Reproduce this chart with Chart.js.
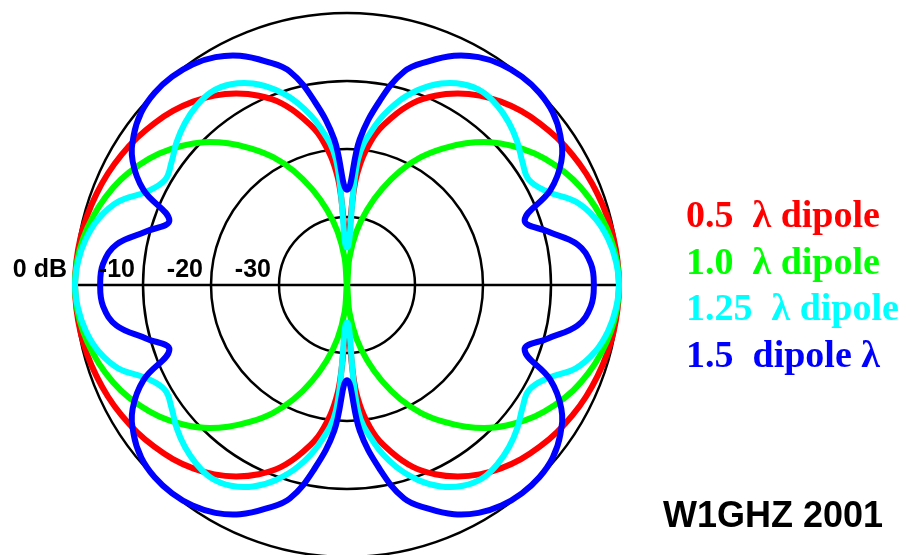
<!DOCTYPE html>
<html>
<head>
<meta charset="utf-8">
<script src="https://cdn.jsdelivr.net/npm/chart.js@4/dist/chart.umd.min.js"></script>
<style>
    html, body { margin: 0; padding: 0; background: #fff; overflow: hidden; }
    canvas { display: block; }
</style>
</head>
<body>
<canvas id="myChart" width="907" height="570"></canvas>
<script>
// angle from the dipole axis (deg), one quadrant, pattern is symmetric
var angulos = [0, 5, 10, 15, 20, 25, 30, 35, 40, 45, 50, 55, 60, 65, 70, 75, 80, 85, 90]

// relative field in dB
var dipolo05  = [-33, -24, -18, -14.5, -11.5, -9.3, -7.5, -6.0, -4.8, -3.8, -3.0, -2.3, -1.7, -1.2, -0.8, -0.45, -0.2, -0.05, 0]
var dipolo10  = [-40, -36, -32, -28.5, -25, -21.5, -18.3, -15.5, -12.8, -10.3, -8.2, -6.3, -4.7, -3.3, -2.2, -1.3, -0.6, -0.15, 0]
var dipolo125 = [-34.5, -21.5, -16.2, -12.4, -9.5, -7.3, -5.9, -5.3, -5.6, -6.3, -7.3, -8.5, -9.1, -7.5, -4.2, -2.2, -1.0, -0.3, 0]
var dipolo15  = [-26, -18.5, -12.6, -7.5, -5.0, -2.8, -1.3, -0.4, 0, 0, -0.5, -1.7, -3.6, -7.0, -12.2, -9.5, -5.6, -4.0, -3.7]

var anillos = [0, -10, -20, -30]
var etiquetasAnillo = ['0 dB', '-10', '-20', '-30']

var leyenda = ['0.5  \u03bb dipole', '1.0  \u03bb dipole', '1.25  \u03bb dipole', '1.5  dipole \u03bb']
var colores = ['rgb(255, 0, 0)', 'rgb(0, 255, 0)', 'rgb(0, 255, 255)', 'rgb(0, 0, 255)']
var credito = 'W1GHZ 2001'

// full turn of labels, clockwise from the top
function getEtiquetas() {
    let etiquetas = []
    for (let k = 0; k < 4; k++) {
        angulos.slice(0, angulos.length - 1).forEach(a => {
            etiquetas.push(k * 90 + a)
        })
    }
    return etiquetas
}

// unfold one quadrant to the whole circle
function vueltaCompleta(cuadrante) {
    let valores = []
    getEtiquetas().forEach(a => {
        let t = a > 180 ? 360 - a : a
        if (t > 90) t = 180 - t
        valores.push(cuadrante[angulos.indexOf(t)])
    })
    return valores
}

const textos = {
    id: 'textos',
    afterDraw(chart) {
        const ctx = chart.ctx
        const r = chart.scales.r
        ctx.save()
        ctx.fillStyle = '#000'
        ctx.textBaseline = 'alphabetic'
        ctx.textAlign = 'right'
        ctx.font = 'bold 25px "Liberation Sans", Arial, sans-serif'
        anillos.forEach((v, i) => {
            const d = r.getDistanceFromCenterForValue(v)
            ctx.fillText(etiquetasAnillo[i], r.xCenter - d - 8, r.yCenter - 8)
        })

        ctx.textAlign = 'left'
        ctx.font = 'bold 38px "Liberation Serif", "Times New Roman", serif'
        leyenda.forEach((t, i) => {
            ctx.fillStyle = colores[i]
            ctx.fillText(t, 686, 227 + i * 46.5)
        })

        ctx.fillStyle = '#000'
        ctx.font = 'bold 36px "Liberation Sans", Arial, sans-serif'
        ctx.fillText(credito, 663, 527)
        ctx.restore()
    }
}

var ctx = document.getElementById('myChart').getContext('2d');
var myChart = new Chart(ctx, {
    type: 'radar',
    data: {
        labels: getEtiquetas(),
        datasets: [
            { label: leyenda[0], data: vueltaCompleta(dipolo05), borderColor: colores[0], order: 4 },
            { label: leyenda[1], data: vueltaCompleta(dipolo10), borderColor: colores[1], order: 3 },
            { label: leyenda[2], data: vueltaCompleta(dipolo125), borderColor: colores[2], order: 2 },
            { label: leyenda[3], data: vueltaCompleta(dipolo15), borderColor: colores[3], order: 1 },
        ]
    },
    options: {
        responsive: false,
        animation: false,
        layout: { padding: { left: 75, right: 288, top: 13, bottom: 13 } },
        plugins: {
            legend: { display: false },
            tooltip: { enabled: false }
        },
        elements: {
            point: { radius: 0 },
            line: { tension: 0.4, borderWidth: 6, fill: false, borderJoinStyle: 'round' }
        },
        scales: {
            r: {
                min: -40,
                max: 0,
                ticks: { stepSize: 10, display: false },
                pointLabels: { display: false },
                grid: { circular: true, color: '#000', lineWidth: 2.5 },
                angleLines: {
                    color: '#000',
                    lineWidth: c => (c.index === 18 || c.index === 54) ? 2.5 : 0
                }
            }
        }
    },
    plugins: [textos]
});
</script>
</body>
</html>
